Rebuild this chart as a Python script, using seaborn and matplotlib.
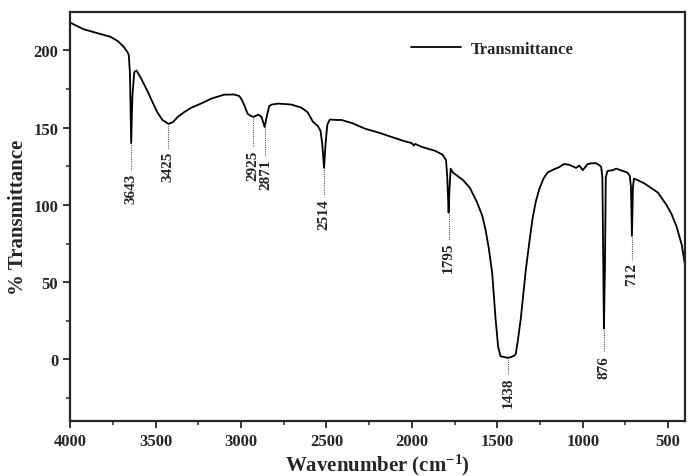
import numpy as np
import pandas as pd
import matplotlib
matplotlib.use('Agg')
import matplotlib.pyplot as plt
import seaborn as sns

# FTIR spectrum (wavenumber in cm-1, % transmittance)
wavenumber = [4000, 3990, 3950, 3922, 3850, 3765, 3720, 3686, 3665, 3657,
              3650, 3643, 3636, 3625, 3612, 3590, 3549, 3520, 3490, 3460,
              3425, 3400, 3370, 3334, 3290, 3235, 3170, 3098, 3040, 3010,
              2995, 2981, 2961, 2940, 2925, 2900, 2880, 2862, 2848, 2835,
              2820, 2782, 2706, 2647, 2610, 2580, 2550, 2535, 2525, 2514,
              2505, 2495, 2480, 2441, 2412, 2350, 2275, 2200, 2118, 2050,
              2000, 1990, 1981, 1940, 1863, 1820, 1800, 1793, 1785, 1780,
              1773, 1760, 1700, 1660, 1620, 1588, 1569, 1550, 1530, 1510,
              1495, 1481, 1460, 1438, 1420, 1400, 1392, 1380, 1363, 1333,
              1310, 1294, 1275, 1255, 1230, 1206, 1170, 1137, 1110, 1080,
              1050, 1039, 1020, 1000, 971, 945, 922, 900, 892, 885,
              876, 870, 865, 855, 824, 804, 765, 740, 725, 718,
              712, 706, 700, 677, 640, 600, 560, 510, 480, 451,
              420, 400]
transmittance = [218, 217.5, 215.3, 213.8, 211.5, 208.9, 206, 202.3, 199, 197,
                 185, 140, 170, 186, 187, 183, 174, 167, 160, 155,
                 152.5, 153.5, 157, 160, 163, 165.6, 169, 171.4, 171.5, 170.5,
                 168, 164.5, 159, 157.5, 157, 158.5, 157, 150.5, 158, 164,
                 165, 165.6, 165, 163, 160, 154, 151, 148, 140, 124,
                 140, 152, 155.3, 155, 155, 153, 149.4, 147, 144, 141.5,
                 140, 138.5, 139.5, 137.5, 135, 132.5, 129, 118, 95, 110,
                 123.5, 121, 116, 111, 102, 93, 84, 72, 56, 26,
                 8, 2, 1.5, 1, 1.5, 2.5, 3.5, 12, 26, 58,
                 78, 91, 102, 110, 117, 121, 123, 124.5, 126.5, 126,
                 124.5, 124, 125.5, 122.5, 126.5, 127, 127, 125.5, 124.5, 118,
                 20, 60, 118, 122, 122.5, 123.5, 122, 121, 119, 112,
                 80, 112, 117, 116, 114, 111, 108, 100, 94, 86,
                 74, 60]

# peak labels, where each label is drawn and where its top sits
peak_text = ['3643', '3425', '2925', '2871', '2514', '1795', '1438', '876', '712']
peak_label_x = [3643, 3425, 2930, 2857, 2514, 1785, 1438, 876, 712]
peak_label_top = [121, 135, 136, 130, 104, 76, -11, 3, 63]

df = pd.DataFrame({'Wavenumber': wavenumber, 'Transmittance': transmittance})

sns.set_style('ticks')
plt.rcParams['font.family'] = ['Liberation Serif', 'DejaVu Serif']
plt.rcParams['font.weight'] = 'bold'
plt.rcParams['axes.labelweight'] = 'bold'
plt.rcParams['mathtext.fontset'] = 'custom'
plt.rcParams['mathtext.rm'] = 'Liberation Serif:bold'
plt.rcParams['mathtext.default'] = 'rm'

fig = plt.figure(figsize=(6.88, 4.77), dpi=100)
ax = fig.add_axes([0.102, 0.115, 0.894, 0.858])

sns.lineplot(data=df, x='Wavenumber', y='Transmittance', color='black',
             linewidth=1.3, estimator=None, sort=False, ax=ax, label='Transmittance')

# dotted connectors and rotated peak labels
for txt, wn, top in zip(peak_text, peak_label_x, peak_label_top):
    dip = np.interp(wn, wavenumber[::-1], transmittance[::-1])
    ax.plot([wn, wn], [dip - 1, top + 1.5], color='#555555', lw=0.8, ls=(0, (1, 1)))
    ax.text(wn, top, txt, rotation=90, ha='center', va='top',
            fontsize=11, fontweight='bold')

ax.set_xlim(4000, 400)
ax.set_ylim(-40, 225)
ax.set_xticks([4000, 3500, 3000, 2500, 2000, 1500, 1000, 500])
ax.set_xticks(np.arange(3750, 400, -500), minor=True)
ax.set_yticks([0, 50, 100, 150, 200])
ax.set_yticks([-25, 25, 75, 125, 175], minor=True)
ax.tick_params(axis='both', which='major', labelsize=12, width=1.3, length=5, direction='out')
ax.tick_params(axis='both', which='minor', width=1.1, length=3, direction='out')
for sp in ax.spines.values():
    sp.set_linewidth(1.6)
    sp.set_visible(True)

ax.set_xlabel('Wavenumber (cm$^{-1}$)', fontsize=15, fontweight='bold', labelpad=2)
ax.set_ylabel('% Transmittance', fontsize=15, fontweight='bold', labelpad=4)

leg = ax.legend(loc='upper left', bbox_to_anchor=(0.53, 0.965), frameon=False,
                handlelength=3.0, handletextpad=0.6, fontsize=12)
for t in leg.get_texts():
    t.set_fontweight('bold')

fig.savefig('out.png', dpi=100)
